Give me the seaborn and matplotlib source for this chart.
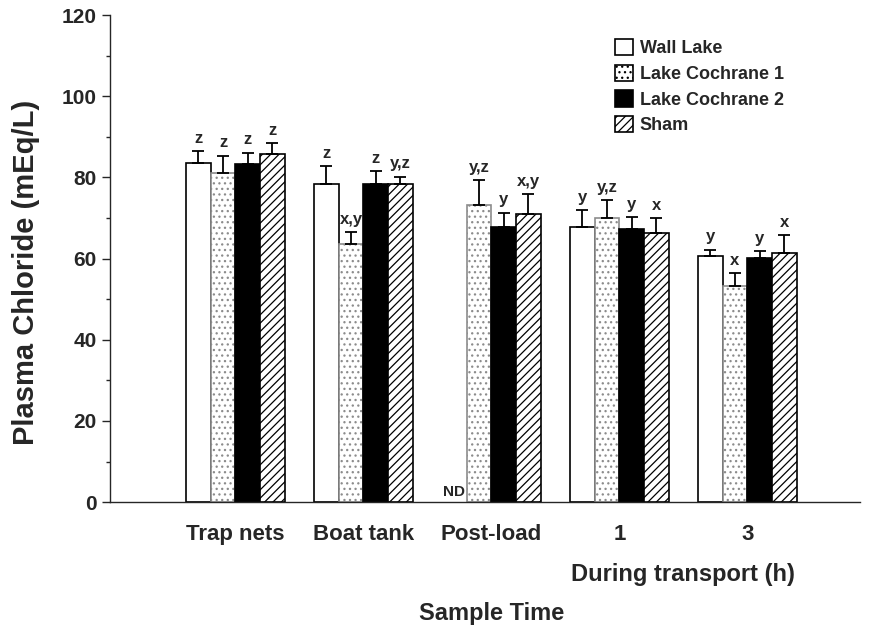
import numpy as np
import pandas as pd
import matplotlib
matplotlib.use("Agg")
import matplotlib.pyplot as plt
import seaborn as sns
from matplotlib.ticker import MultipleLocator
from matplotlib.patches import Patch

categories = ["Trap nets", "Boat tank", "Post-load", "1", "3"]
series = ["Wall Lake", "Lake Cochrane 1", "Lake Cochrane 2", "Sham"]

wall_lake = [83.5, 78.5, np.nan, 67.7, 60.6]
cochrane1 = [81.2, 63.5, 73.3, 69.9, 53.2]
cochrane2 = [83.3, 78.3, 67.7, 67.4, 60.2]
sham = [85.8, 78.4, 71.1, 66.3, 61.5]

wall_lake_err = [3.0, 4.3, np.nan, 4.3, 1.6]
cochrane1_err = [4.2, 3.1, 6.0, 4.5, 3.3]
cochrane2_err = [2.8, 3.3, 3.6, 2.9, 1.6]
sham_err = [2.6, 1.8, 4.7, 3.6, 4.3]

wall_lake_lbl = ["z", "z", "", "y", "y"]
cochrane1_lbl = ["z", "x,y", "y,z", "y,z", "x"]
cochrane2_lbl = ["z", "z", "y", "y", "y"]
sham_lbl = ["z", "y,z", "x,y", "x", "x"]

values = [wall_lake, cochrane1, cochrane2, sham]
errors = [wall_lake_err, cochrane1_err, cochrane2_err, sham_err]
labels = [wall_lake_lbl, cochrane1_lbl, cochrane2_lbl, sham_lbl]

rows = []
for s, vals in zip(series, values):
    for c, v in zip(categories, vals):
        rows.append({"time": c, "group": s, "value": v})
df = pd.DataFrame(rows)

sns.set_style("ticks")
plt.rcParams["font.family"] = ["Liberation Sans", "DejaVu Sans"]
plt.rcParams["hatch.linewidth"] = 0.9

fig = plt.figure(figsize=(8.73, 6.3), dpi=100)
ax = fig.add_axes([0.126, 0.203, 0.859, 0.773])

group_width = 0.77
sns.barplot(data=df.dropna(), x="time", y="value", hue="group",
            order=categories, hue_order=series, errorbar=None,
            width=group_width, ax=ax, legend=False)

face = ["white", "white", "black", "white"]
edge = ["black", "0.55", "black", "black"]
hatches = [None, "...", None, "////"]

w = group_width / len(series)
for bar in list(ax.patches):
    xc = bar.get_x() + bar.get_width() / 2
    j = int(round(xc))
    i = int(round((xc - j + group_width / 2) / w - 0.5))
    h = bar.get_height()
    if np.isnan(h):
        continue
    bar.set_facecolor(face[i])
    bar.set_edgecolor(edge[i])
    bar.set_linewidth(1.2)
    if hatches[i]:
        bar.set_hatch(hatches[i])
    err = errors[i][j]
    ax.errorbar([xc], [h], yerr=[[0], [err]], fmt="none",
                ecolor="black", elinewidth=1.3, capsize=4, capthick=1.3)
    ax.text(xc, h + err + 1.3, labels[i][j], ha="center", va="bottom",
            fontsize=12, fontweight="bold")

# ND marker for Wall Lake at Post-load
ax.text(2 - 1.5 * w, 0.8, "ND", ha="center", va="bottom", fontsize=11,
        fontweight="bold")

legend_handles = [Patch(facecolor=face[i], edgecolor="black",
                        hatch=hatches[i], linewidth=1.2) for i in range(4)]
leg = ax.legend(legend_handles, series, loc="upper left",
                bbox_to_anchor=(0.652, 0.985), frameon=False,
                handlelength=1.0, handleheight=1.0, handletextpad=0.35,
                labelspacing=0.42, prop={"weight": "bold", "size": 13})

ax.set_ylim(0, 120)
ax.set_xlim(-0.98, 4.88)
ax.yaxis.set_major_locator(MultipleLocator(20))
ax.yaxis.set_minor_locator(MultipleLocator(10))
ax.tick_params(axis="y", which="major", length=6, width=1, labelsize=15)
ax.tick_params(axis="y", which="minor", length=3, width=1)
ax.tick_params(axis="x", length=0, labelsize=16, pad=16)
for t in ax.get_yticklabels() + ax.get_xticklabels():
    t.set_fontweight("bold")
sns.despine(ax=ax)
ax.spines["left"].set_linewidth(1)
ax.spines["bottom"].set_linewidth(1)

ax.set_ylabel("Plasma Chloride (mEq/L)", fontsize=21, fontweight="bold")
ax.yaxis.set_label_coords(-0.093, 0.472)
ax.set_xlabel("")
ax.text(3.5, -0.125, "During transport (h)", transform=ax.get_xaxis_transform(),
        ha="center", va="top", fontsize=17, fontweight="bold")
ax.text(2.0, -0.205, "Sample Time", transform=ax.get_xaxis_transform(),
        ha="center", va="top", fontsize=17, fontweight="bold")

fig.savefig("out.png", dpi=100)
